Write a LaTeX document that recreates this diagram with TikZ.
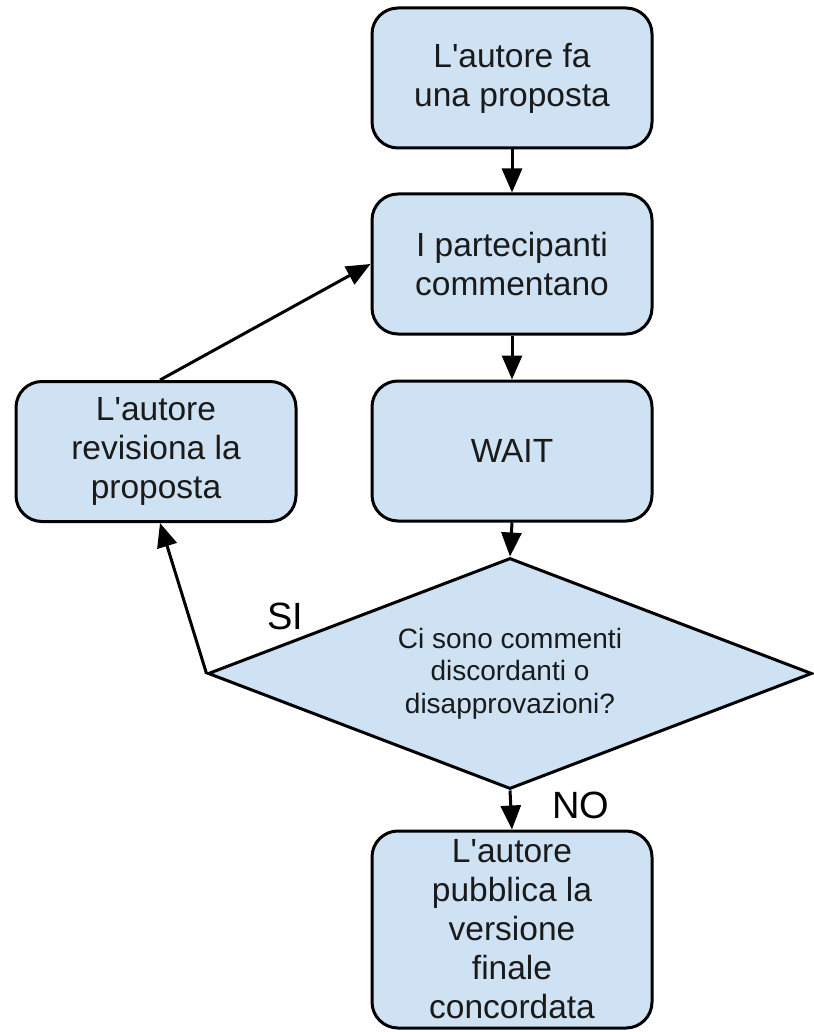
\documentclass[tikz,border=0pt]{standalone}
\usepackage{fontspec}
\setmainfont{Liberation Sans}
\usetikzlibrary{shapes.geometric,arrows.meta}
\definecolor{boxfill}{HTML}{CFE2F3}
\definecolor{txt}{HTML}{1A1A1A}
\newcommand{\apos}{\textquotesingle}
\begin{document}
\begin{tikzpicture}[x=1pt,y=-1pt,
  box/.style={draw=black, line width=3pt, fill=boxfill, rounded corners=26pt,
    minimum width=280pt, minimum height=140pt, align=center, inner sep=0pt,
    text=txt, font=\fontsize{33.5}{39}\selectfont},
  decision/.style={diamond, draw=black, line width=3pt, fill=boxfill, aspect=2.61,
    minimum width=604pt, minimum height=231pt, inner sep=0pt, align=center,
    text=txt, font=\fontsize{28}{32.5}\selectfont},
  arr/.style={draw=black, line width=3pt, -{Triangle[length=24pt,width=20pt]}},
  lbl/.style={text=black, font=\fontsize{38}{40}\selectfont, inner sep=0pt}]
\useasboundingbox (0,0) rectangle (813,1032);
\node[box] (b1) at (512,78) {L\apos autore fa\\una proposta};
\node[box] (b2) at (512,264) {I partecipanti\\commentano};
\node[box] (b3) at (512,451) {WAIT};
\node[box] (lb) at (156,451.5) {L\apos autore\\revisiona la\\proposta};
\node[decision] (d) at (510,673.5) {Ci sono commenti\\discordanti o\\disapprovazioni?};
\node[box, minimum height=197pt] (b5) at (512,929.5) {L\apos autore\\pubblica la\\versione\\finale\\concordata};
\draw[arr] (b1.south) -- (b2.north);
\draw[arr] (b2.south) -- (b3.north);
\draw[arr] (b3.south) -- (d.north);
\draw[arr] (d.south) -- (b5.north);
\draw[arr] (d.west) -- ([xshift=4pt]lb.south);
\draw[arr] ([xshift=4pt]lb.north) -- (b2.west);
\node[lbl] (si) at (285,616) {SI};
\node[lbl] (no) at (581,805) {NO};
\end{tikzpicture}
\end{document}
